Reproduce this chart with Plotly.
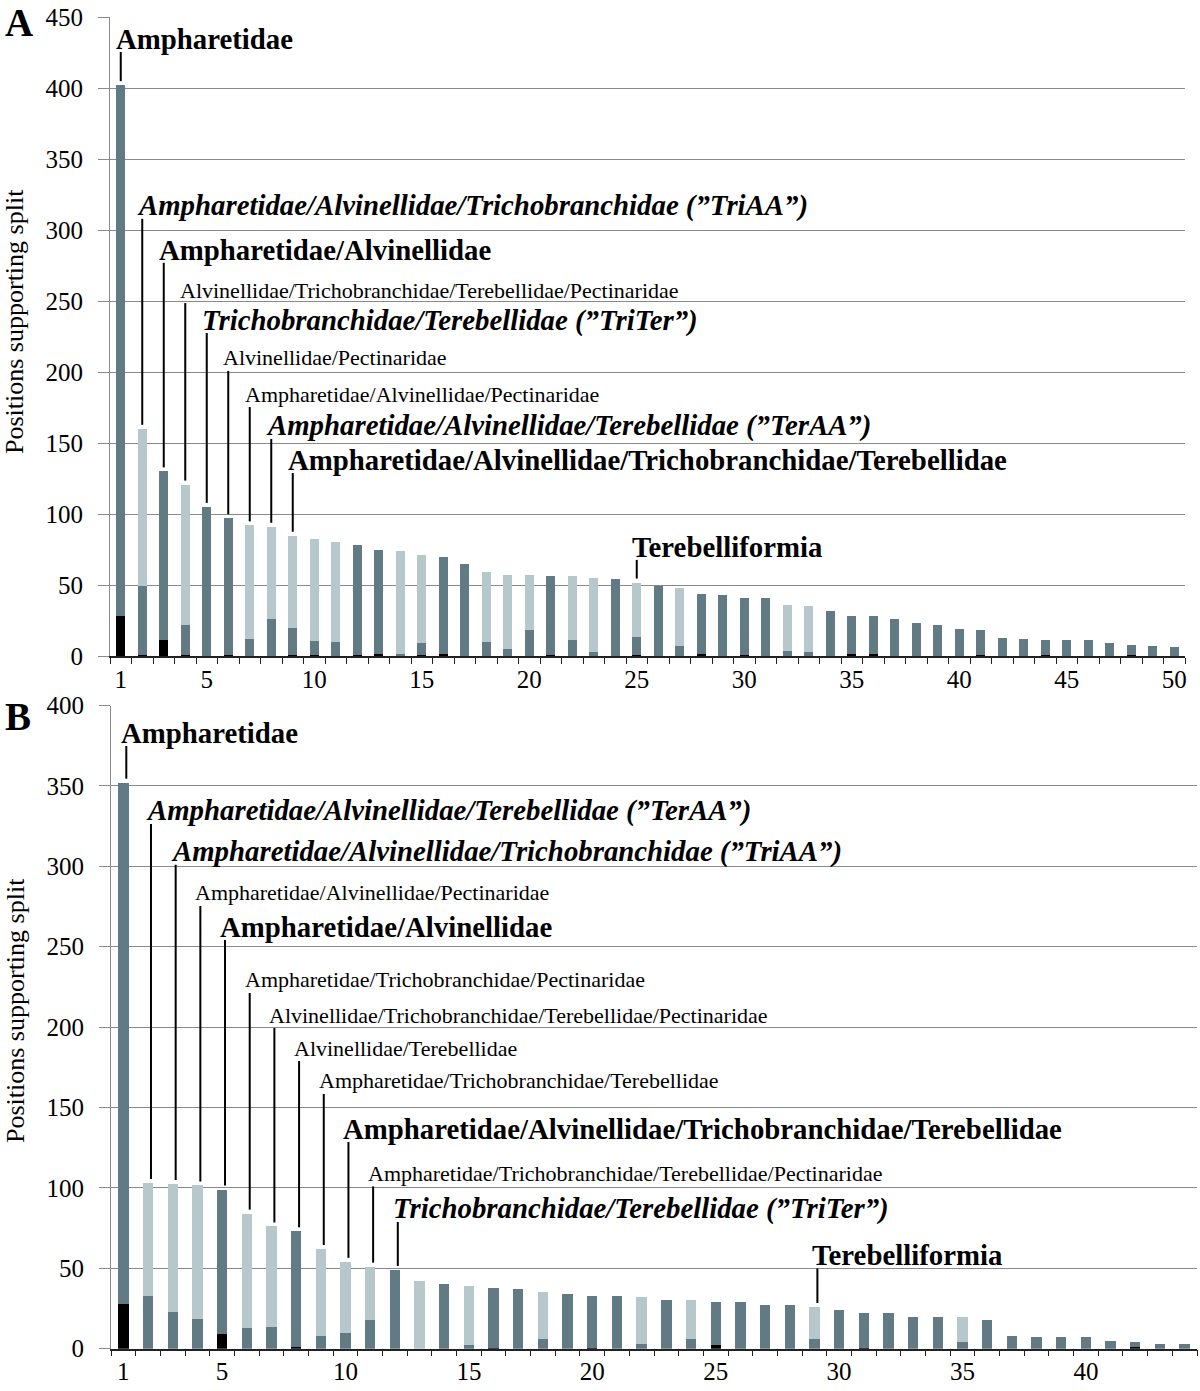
import plotly.graph_objects as go

W, H = 1200, 1391
FONT = "Liberation Serif, Times New Roman, serif"
DARK = "#627a83"
LIGHT = "#b6c8cc"
BLACK = "#000000"

# ---------------- Panel A data (50 splits) ----------------
a_black = [28, 1, 11, 0.7, 0, 0.7, 0, 0, 0.7, 0.7,
           0, 0.7, 1.5, 0, 0.7, 1.5, 0, 0, 0, 0,
           0.7, 0, 0, 0, 0.7, 0, 0, 1.2, 0, 0.7,
           0, 0, 0, 0, 1.5, 1.5, 0, 0, 0, 0,
           0.7, 0, 0, 0.7, 0, 0, 0, 0.7, 0, 0]
a_dark = [374, 48, 119, 21, 105, 96.3, 12, 26, 19, 10,
          10, 77.3, 73.5, 1.5, 8.5, 68.5, 65, 10, 5, 18,
          55.3, 11, 3, 54, 13, 49, 7, 42.8, 43, 40.3,
          41, 3.5, 2.6, 32, 26.5, 26.5, 26, 23, 22, 19,
          17.3, 13, 12, 10.3, 11, 11, 9, 7.3, 7, 6]
a_light = [0, 111, 0, 99, 0, 0, 80, 65, 65, 72,
           70, 0, 0, 72.5, 62, 0, 0, 49, 52, 39,
           0, 45, 52, 0, 38, 0, 41, 0, 0, 0,
           0, 32.5, 32.4, 0, 0, 0, 0, 0, 0, 0,
           0, 0, 0, 0, 0, 0, 0, 0, 0, 0]
a_tickvals = [1, 5, 10, 15, 20, 25, 30, 35, 40, 45, 50]

# ---------------- Panel B data (44 splits) ----------------
b_black = [28, 0, 0, 0, 9, 0, 0, 1, 0, 0,
           0, 0, 0, 0, 0, 0.7, 0, 0, 0, 0.7,
           0, 0, 0, 0, 2, 0, 0, 0, 0, 0,
           0.7, 0, 0, 0, 0, 0, 0, 0, 0, 0,
           0, 1, 0, 0]
b_dark = [324, 33, 23, 18.6, 90, 12.7, 13.6, 72, 8, 10,
          18, 49, 0, 40, 2, 37.3, 37, 6, 34, 32.3,
          33, 3, 30, 6, 27, 29, 27, 27, 6, 24,
          21.3, 22, 20, 20, 4, 18, 8, 7, 7, 7,
          5, 3, 3, 3]
b_light = [0, 70, 79.5, 82.9, 0, 71.3, 62.4, 0, 54, 44,
           33, 0, 42, 0, 37, 0, 0, 29, 0, 0,
           0, 29, 0, 24, 0, 0, 0, 0, 20, 0,
           0, 0, 0, 0, 16, 0, 0, 0, 0, 0,
           0, 0, 0, 0]
b_tickvals = [1, 5, 10, 15, 20, 25, 30, 35, 40]

# ---------------- Split labels ----------------
a_labels = [
    (1, "Ampharetidae", "b"),
    (2, "Ampharetidae/Alvinellidae/Trichobranchidae (\u201dTriAA\u201d)", "bi"),
    (3, "Ampharetidae/Alvinellidae", "b"),
    (4, "Alvinellidae/Trichobranchidae/Terebellidae/Pectinaridae", "r"),
    (5, "Trichobranchidae/Terebellidae (\u201dTriTer\u201d)", "bi"),
    (6, "Alvinellidae/Pectinaridae", "r"),
    (7, "Ampharetidae/Alvinellidae/Pectinaridae", "r"),
    (8, "Ampharetidae/Alvinellidae/Terebellidae (\u201dTerAA\u201d)", "bi"),
    (9, "Ampharetidae/Alvinellidae/Trichobranchidae/Terebellidae", "b"),
    (25, "Terebelliformia", "b"),
]
a_label_y = [434.5, 317, 286, 257.7, 236.6, 209.9, 184.5, 162, 138, 76.8]

b_labels = [
    (1, "Ampharetidae", "b"),
    (2, "Ampharetidae/Alvinellidae/Terebellidae (\u201dTerAA\u201d)", "bi"),
    (3, "Ampharetidae/Alvinellidae/Trichobranchidae (\u201dTriAA\u201d)", "bi"),
    (4, "Ampharetidae/Alvinellidae/Pectinaridae", "r"),
    (5, "Ampharetidae/Alvinellidae", "b"),
    (6, "Ampharetidae/Trichobranchidae/Pectinaridae", "r"),
    (7, "Alvinellidae/Trichobranchidae/Terebellidae/Pectinaridae", "r"),
    (8, "Alvinellidae/Terebellidae", "r"),
    (9, "Ampharetidae/Trichobranchidae/Terebellidae", "r"),
    (10, "Ampharetidae/Alvinellidae/Trichobranchidae/Terebellidae", "b"),
    (11, "Ampharetidae/Trichobranchidae/Terebellidae/Pectinaridae", "r"),
    (12, "Trichobranchidae/Terebellidae (\u201dTriTer\u201d)", "bi"),
    (29, "Terebelliformia", "b"),
]
b_label_y = [382.9, 334.4, 309, 283.4, 262.3, 229.3, 207.5, 187, 166.5, 136.6, 109, 86.9, 58]

# ---------------- Layout geometry (pixels) ----------------
A_X = (110, 1185)
A_Y = (17, 656)       # top, bottom pixel
B_X = (111, 1197)
B_Y = (705.5, 1348.7)

fig = go.Figure()


def add_panel(black, dark, light, xa, ya):
    cats = list(range(1, len(black) + 1))
    for vals, col in ((black, BLACK), (dark, DARK), (light, LIGHT)):
        fig.add_trace(go.Bar(x=cats, y=vals, marker=dict(color=col, line=dict(width=0)),
                             width=0.42, xaxis=xa, yaxis=ya, hoverinfo="skip",
                             showlegend=False))


add_panel(a_black, a_dark, a_light, "x", "y")
add_panel(b_black, b_dark, b_light, "x2", "y2")

STYLE = {"b": (28.8, "<b>{}</b>"), "bi": (28.8, "<b><i>{}</i></b>"), "r": (22, "{}")}


def add_labels(labels, label_y, black, dark, light, xref, yref, scale, dx):
    totals = [k + d + l for k, d, l in zip(black, dark, light)]
    for (cat, text, style), ly in zip(labels, label_y):
        size, fmt = STYLE[style]
        xl = cat + dx
        fig.add_annotation(x=xl, y=ly, xref=xref, yref=yref, text=fmt.format(text),
                           showarrow=False, xanchor="left", yanchor="middle",
                           xshift=-6, borderpad=0,
                           font=dict(size=size, family=FONT, color="black"))
        fig.add_shape(type="line", xref=xref, yref=yref, x0=xl, x1=xl,
                      y0=totals[cat - 1] + 4 / scale, y1=ly - 13 / scale,
                      line=dict(color="black", width=2))


a_scale = (A_Y[1] - A_Y[0]) / 450.0
b_scale = (B_Y[1] - B_Y[0]) / 400.0
add_labels(a_labels, a_label_y, a_black, a_dark, a_light, "x", "y", a_scale, 0.0)
add_labels(b_labels, b_label_y, b_black, b_dark, b_light, "x2", "y2", b_scale, 0.12)


def xaxis_cfg(xr, n, tickvals):
    return dict(domain=[xr[0] / W, xr[1] / W], range=[0.5, n + 0.5], automargin=False,
                tickmode="array", tickvals=tickvals, ticks="outside", ticklen=0,
                showline=True, linecolor="#222", linewidth=1.5, showgrid=False,
                zeroline=False, tickfont=dict(size=25, family=FONT, color="black"),
                ticklabelstandoff=0,
                minor=dict(tickmode="array", tickvals=[i + 0.5 for i in range(n + 1)],
                           ticks="outside", ticklen=6, tickcolor="#222", tickwidth=1,
                           showgrid=False))


def yaxis_cfg(yr, top):
    return dict(domain=[1 - yr[1] / H, 1 - yr[0] / H], range=[0, top], automargin=False,
                tick0=0, dtick=50, ticks="outside", ticklen=11, tickcolor="#8a8a8a",
                showline=True, linecolor="#8a8a8a", linewidth=1,
                showgrid=True, gridcolor="#8a8a8a", gridwidth=1, zeroline=False,
                tickfont=dict(size=25, family=FONT, color="black"),
                ticklabelstandoff=10)


xa = xaxis_cfg(A_X, 50, a_tickvals); xa["anchor"] = "y"
xb = xaxis_cfg(B_X, 44, b_tickvals); xb["anchor"] = "y2"
ya = yaxis_cfg(A_Y, 450); ya["anchor"] = "x"
yb = yaxis_cfg(B_Y, 400); yb["anchor"] = "x2"

fig.update_layout(width=W, height=H, margin=dict(l=0, r=0, t=0, b=0, autoexpand=False),
                  plot_bgcolor="white", paper_bgcolor="white", barmode="stack",
                  showlegend=False, font=dict(family=FONT, color="black"),
                  xaxis=xa, yaxis=ya, xaxis2=xb, yaxis2=yb)

# panel letters and y titles
for letter, yc in (("A", 22), ("B", 716)):
    fig.add_annotation(x=3 / W, y=1 - yc / H, xref="paper", yref="paper",
                       text="<b>{}</b>".format(letter), showarrow=False,
                       xanchor="left", yanchor="middle",
                       font=dict(size=39, family=FONT, color="black"))
for yc in (322, 1011):
    fig.add_annotation(x=15 / W, y=1 - yc / H, xref="paper", yref="paper",
                       text="Positions supporting split", showarrow=False,
                       textangle=-90, xanchor="center", yanchor="middle",
                       font=dict(size=26, family=FONT, color="black"))

fig.write_html("out.html",
               config={"displayModeBar": False},
               post_script="document.body.style.margin='0px';"
                           "document.body.style.overflow='hidden';")
